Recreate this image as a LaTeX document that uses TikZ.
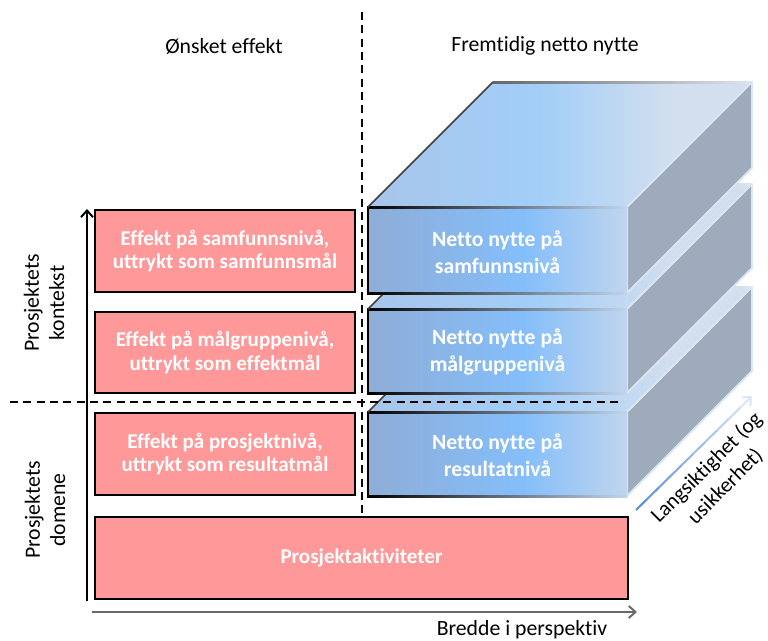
\documentclass[tikz,border=0pt]{standalone}
\usepackage{fontspec}
\setmainfont{Carlito}[Ligatures=CommonOff]
\usetikzlibrary{arrows.meta,calc}
\definecolor{pinkfill}{HTML}{FF9999}
\definecolor{frontL}{HTML}{8EADD7}
\definecolor{frontM}{HTML}{84BEFA}
\definecolor{frontR}{HTML}{C0D5EE}
\definecolor{topL}{HTML}{A8C5EA}
\definecolor{topM}{HTML}{A2CEF8}
\definecolor{topR}{HTML}{D3DFEE}
\definecolor{sidecol}{HTML}{9EABBC}
\definecolor{sideedge}{HTML}{DCE6F2}
\definecolor{arrdark}{HTML}{5B8ED6}
\definecolor{arrlight}{HTML}{DCE6F4}
\definecolor{axisgray}{HTML}{6A6A6A}
\pgfdeclarehorizontalshading{frontsh}{100bp}{color(0bp)=(frontL); color(25bp)=(frontL); color(55bp)=(frontM); color(75bp)=(frontR); color(100bp)=(frontR)}
\pgfdeclarehorizontalshading{topsh}{100bp}{color(0bp)=(topL); color(25bp)=(topL); color(47bp)=(topM); color(65bp)=(topR); color(100bp)=(topR)}
\tikzset{
  pinkbox/.style={draw=black, line width=1.5pt, fill=pinkfill, text=white,
    font=\fontsize{15.8}{17.6}\selectfont\bfseries, align=center, inner sep=0pt},
  bluetext/.style={text=white, font=\fontsize{16.3}{20}\selectfont\bfseries, align=center},
  lbl/.style={font=\fontsize{16.3}{19}\selectfont, align=center, text=black},
  divider/.style={black, line width=1.5pt, dash pattern=on 6pt off 4pt},
}
\newcommand{\drawslab}[2]{%
  % top face
  \shade[shading=topsh]
    (368,#1) -- ++(125,-125) -- ++(259,0) -- (627,#1) -- cycle;
  \shade[left color=black!60, right color=sideedge] (493,{#1-126}) rectangle (752,{#1-124});
  % side face
  \filldraw[fill=sidecol, draw=sideedge, line width=1.5pt, line join=round]
    (627,#1) -- ++(125,-125) -- ++(0,{#2-#1}) -- (627,#2) -- cycle;
  % front face
  \shade[shading=frontsh] (368,#1) rectangle (627,#2);
  \shade[left color=black, right color=frontR] (367,{#1-1}) rectangle (627,{#1+1});
  \shade[left color=black, right color=frontR] (367,{#2-1}) rectangle (627,{#2+1});
  \draw[black, line width=1.5pt] (368,{#1-1}) -- (368,{#2+1});
  \draw[black!75, line width=1.3pt] (368,#1) -- ++(125,-125);
}
\begin{document}
\begin{tikzpicture}[x=0.75pt,y=-0.75pt]
\useasboundingbox (0,0) rectangle (768,640);

% column titles
\node[lbl] (t1) at (224,46) {Ønsket effekt};
\node[lbl] (t2) at (545,46) {Fremtidig netto nytte};

% blue slabs (back to front)
\drawslab{412}{496}
\drawslab{309}{393}
\drawslab{207}{293}
\node[bluetext] (b1) at (497.5,252) {Netto nytte på\\samfunnsnivå};
\node[bluetext] (b2) at (497.5,352) {Netto nytte på\\målgruppenivå};
\node[bluetext] (b3) at (497.5,455) {Netto nytte på\\resultatnivå};

% dashed dividers
\coordinate (vtop) at (362,12);
\coordinate (vbot) at (362,517);
\coordinate (hl) at (10,402);
\coordinate (hr) at (622,402);
\draw[divider] (vtop) -- (vbot);
\draw[divider] (hl) -- (hr);

% pink boxes
\node[pinkbox, minimum width=260*0.75pt, minimum height=82*0.75pt] (p1) at (225,251) {Effekt på samfunnsnivå,\\uttrykt som samfunnsmål};
\node[pinkbox, minimum width=260*0.75pt, minimum height=81*0.75pt] (p2) at (225,352.5) {Effekt på målgruppenivå,\\uttrykt som effektmål};
\node[pinkbox, minimum width=260*0.75pt, minimum height=82*0.75pt] (p3) at (225,454) {Effekt på prosjektnivå,\\uttrykt som resultatmål};
\node[pinkbox, minimum width=533*0.75pt, minimum height=82*0.75pt] (p4) at (361.5,558) {Prosjektaktiviteter};

% axes
\coordinate (ya) at (87,601);
\coordinate (yb) at (87,209);
\draw[black, line width=1.5pt, -{Straight Barb[length=5pt,width=9pt]}] (ya) -- (yb);
\coordinate (xa) at (92,612);
\coordinate (xb) at (637,612);
\draw[axisgray, line width=1.5pt, -{Straight Barb[length=5pt,width=9pt]}] (xa) -- (xb);

% side labels
\node[lbl, rotate=90] (s1) at (44,303) {Prosjektets\\kontekst};
\node[lbl, rotate=90] (s2) at (45,510) {Prosjektets\\domene};
\node[lbl] (xl) at (522,630) {Bredde i perspektiv};

% depth arrow
\coordinate (da) at (636,510);
\coordinate (db) at (752,396);
\draw[arrlight, line width=1.5pt, -{Straight Barb[length=5pt,width=9pt]}] (da) -- (db);
\foreach \i in {0,...,8}{
  \pgfmathsetmacro{\pc}{100-\i*11}
  \draw[arrdark!\pc!arrlight, line width=1.5pt] ($(da)!{\i/10}!(db)$) -- ($(da)!{(\i+1)/10}!(db)$);
}
\node[lbl, rotate=45, font=\fontsize{16}{20}\selectfont] (dl) at (716,477) {Langsiktighet (og\\usikkerhet)};
\end{tikzpicture}
\end{document}
